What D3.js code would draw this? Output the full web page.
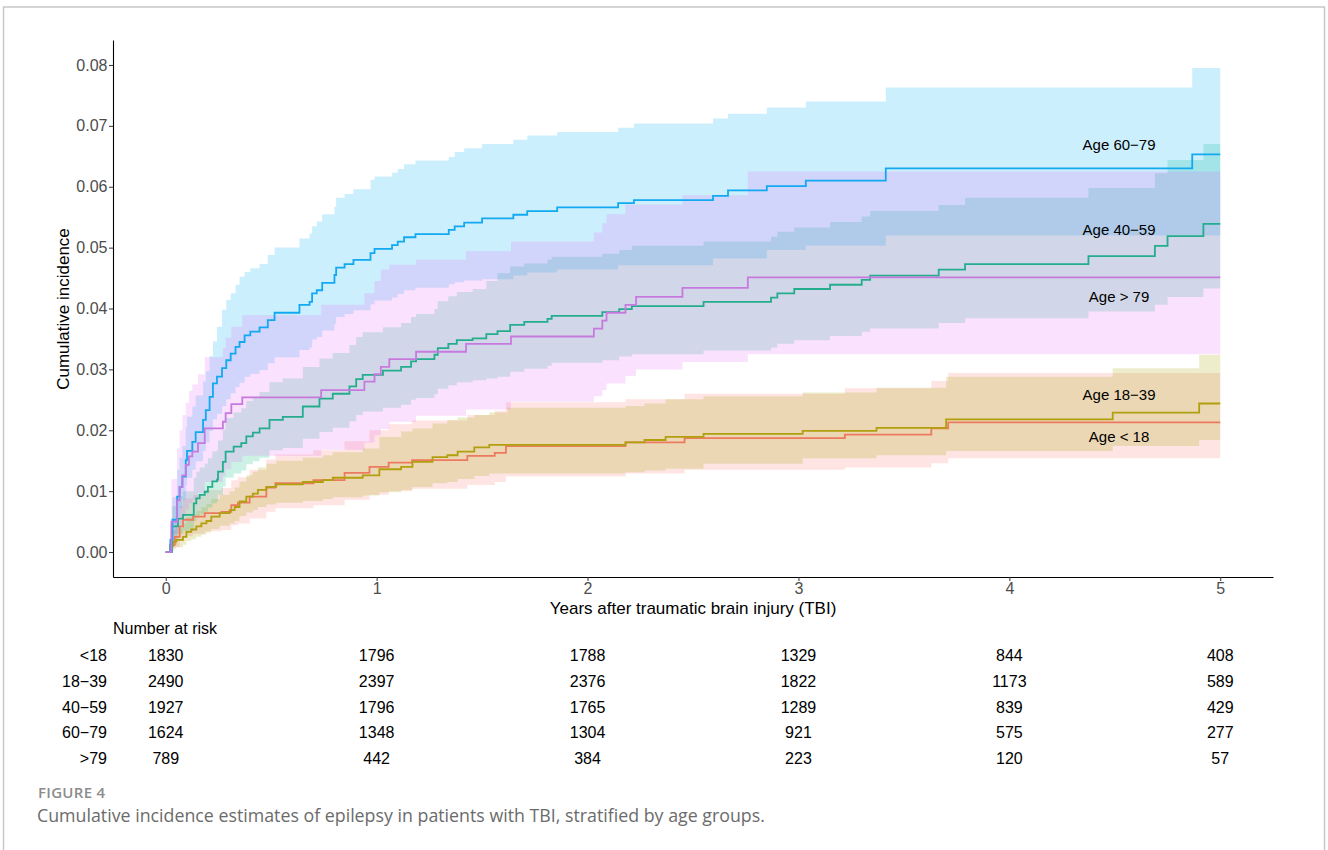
<!DOCTYPE html>
<html>
<head>
<meta charset="utf-8">
<script src="https://d3js.org/d3.v7.min.js"></script>
<style>
    body { margin: 0; background: #fff; }
    svg text { font-family: "Liberation Sans", Arial, sans-serif; }
</style>
</head>
<body>
<div id="figure4_div"></div>
<script>
// each row: [years, cumulative incidence, lower 95% CI, upper 95% CI]
var age_lt18 = [
    [0, 0, 0, 0], [0.02, 0.0012, 0.0002, 0.0035], [0.043, 0.0025, 0.0008, 0.0055],
    [0.066, 0.0042, 0.0018, 0.0075], [0.082, 0.0053, 0.0026, 0.0088], [0.13, 0.0058, 0.0030, 0.0094],
    [0.185, 0.0064, 0.0034, 0.0102], [0.264, 0.0066, 0.0036, 0.0105], [0.311, 0.0077, 0.0044, 0.0118],
    [0.342, 0.0081, 0.0047, 0.0123], [0.398, 0.0091, 0.0055, 0.0135], [0.477, 0.0106, 0.0066, 0.0152],
    [0.52, 0.0113, 0.0072, 0.0160], [0.70, 0.0118, 0.0077, 0.0167], [0.848, 0.0130, 0.0086, 0.0182],
    [0.966, 0.0140, 0.0094, 0.0200], [1.057, 0.0147, 0.0100, 0.0210], [1.168, 0.0151, 0.0104, 0.0216],
    [1.43, 0.0158, 0.0110, 0.0225], [1.56, 0.0163, 0.0115, 0.0232], [1.613, 0.0174, 0.0124, 0.0246],
    [2.18, 0.0180, 0.0129, 0.0251], [2.46, 0.0187, 0.0135, 0.0260], [3.22, 0.0193, 0.0139, 0.0269],
    [3.63, 0.0203, 0.0146, 0.0281], [3.71, 0.0213, 0.0154, 0.0294]
];

var age_18_39 = [
    [0, 0, 0, 0], [0.027, 0.0010, 0.0002, 0.0025], [0.035, 0.0017, 0.0006, 0.0036],
    [0.05, 0.0020, 0.0008, 0.0040], [0.082, 0.0025, 0.0012, 0.0047], [0.098, 0.0033, 0.0018, 0.0057],
    [0.121, 0.0037, 0.0021, 0.0062], [0.145, 0.0042, 0.0025, 0.0068], [0.169, 0.0047, 0.0029, 0.0074],
    [0.193, 0.0051, 0.0032, 0.0079], [0.216, 0.0058, 0.0038, 0.0087], [0.256, 0.0064, 0.0043, 0.0094],
    [0.303, 0.0069, 0.0047, 0.0100], [0.327, 0.0074, 0.0051, 0.0106], [0.35, 0.0083, 0.0059, 0.0116],
    [0.382, 0.0091, 0.0065, 0.0126], [0.413, 0.0096, 0.0069, 0.0132], [0.437, 0.0102, 0.0074, 0.0139],
    [0.477, 0.0107, 0.0078, 0.0145], [0.524, 0.0111, 0.0081, 0.0150], [0.65, 0.0115, 0.0084, 0.0155],
    [0.745, 0.0118, 0.0087, 0.0159], [0.792, 0.0122, 0.0090, 0.0164], [0.934, 0.0126, 0.0093, 0.0170],
    [1.013, 0.0136, 0.0098, 0.0189], [1.116, 0.0140, 0.0102, 0.0198], [1.17, 0.0148, 0.0107, 0.0203],
    [1.265, 0.0156, 0.0113, 0.0211], [1.335, 0.0159, 0.0115, 0.0217], [1.384, 0.0165, 0.0120, 0.0221],
    [1.463, 0.0172, 0.0125, 0.0225], [1.534, 0.0176, 0.0129, 0.0229], [1.62, 0.0176, 0.0129, 0.0237],
    [2.18, 0.0180, 0.0131, 0.0240], [2.27, 0.0184, 0.0134, 0.0244], [2.37, 0.0189, 0.0137, 0.0251],
    [2.55, 0.0194, 0.0145, 0.0256], [3.02, 0.0199, 0.0154, 0.0262], [3.37, 0.0204, 0.0159, 0.0270],
    [3.70, 0.0218, 0.0166, 0.0288], [4.49, 0.0229, 0.0174, 0.0302], [4.90, 0.0244, 0.0184, 0.0324]
];

var age_40_59 = [
    [0, 0, 0, 0], [0.03, 0.0042, 0.0020, 0.0075], [0.058, 0.0055, 0.0030, 0.0092],
    [0.082, 0.0061, 0.0035, 0.0100], [0.133, 0.0080, 0.0050, 0.0122], [0.145, 0.0088, 0.0057, 0.0132],
    [0.161, 0.0094, 0.0062, 0.0139], [0.185, 0.0099, 0.0066, 0.0145], [0.20, 0.0107, 0.0073, 0.0154],
    [0.221, 0.0116, 0.0080, 0.0165], [0.243, 0.0119, 0.0083, 0.0168], [0.248, 0.0132, 0.0094, 0.0183],
    [0.271, 0.0148, 0.0108, 0.0201], [0.284, 0.0165, 0.0122, 0.0220], [0.322, 0.0173, 0.0129, 0.0229],
    [0.358, 0.0179, 0.0134, 0.0236], [0.382, 0.0190, 0.0144, 0.0248], [0.413, 0.0196, 0.0149, 0.0255],
    [0.445, 0.0203, 0.0155, 0.0263], [0.492, 0.0217, 0.0167, 0.0279], [0.555, 0.0222, 0.0171, 0.0285],
    [0.65, 0.0239, 0.0186, 0.0304], [0.729, 0.0252, 0.0197, 0.0318], [0.792, 0.0260, 0.0204, 0.0327],
    [0.871, 0.0272, 0.0215, 0.0340], [0.903, 0.0284, 0.0225, 0.0353], [0.934, 0.0291, 0.0231, 0.0361],
    [1.03, 0.0298, 0.0237, 0.0369], [1.116, 0.0304, 0.0242, 0.0376], [1.163, 0.0313, 0.0250, 0.0386],
    [1.187, 0.0317, 0.0253, 0.0391], [1.274, 0.0324, 0.0259, 0.0399], [1.29, 0.0335, 0.0268, 0.0412],
    [1.34, 0.0342, 0.0274, 0.0420], [1.38, 0.0348, 0.0279, 0.0427], [1.455, 0.0351, 0.0282, 0.0432],
    [1.52, 0.0358, 0.0285, 0.0445], [1.573, 0.0363, 0.0288, 0.0458], [1.633, 0.0373, 0.0296, 0.0469],
    [1.70, 0.0378, 0.0301, 0.0474], [1.81, 0.0383, 0.0306, 0.0480], [1.83, 0.0388, 0.0311, 0.0485],
    [2.07, 0.0394, 0.0315, 0.0490], [2.15, 0.0399, 0.0321, 0.0496], [2.21, 0.0404, 0.0325, 0.0503],
    [2.55, 0.0411, 0.0331, 0.0510], [2.87, 0.0418, 0.0336, 0.0518], [2.90, 0.0425, 0.0342, 0.0526],
    [2.98, 0.0432, 0.0348, 0.0533], [3.15, 0.0439, 0.0355, 0.0542], [3.30, 0.0447, 0.0362, 0.0551],
    [3.34, 0.0454, 0.0367, 0.0560], [3.665, 0.0464, 0.0376, 0.0570], [3.79, 0.0473, 0.0384, 0.0582],
    [4.375, 0.0486, 0.0395, 0.0598], [4.69, 0.0503, 0.0406, 0.0622], [4.75, 0.0519, 0.0419, 0.0644],
    [4.92, 0.0539, 0.0433, 0.0670]
];

var age_60_79 = [
    [0, 0, 0, 0], [0.022, 0.0020, 0.0007, 0.0045], [0.032, 0.0053, 0.0030, 0.0090],
    [0.054, 0.0091, 0.0058, 0.0135], [0.066, 0.0107, 0.0072, 0.0155], [0.079, 0.0124, 0.0086, 0.0174],
    [0.095, 0.0151, 0.0109, 0.0205], [0.101, 0.0166, 0.0122, 0.0222], [0.126, 0.0181, 0.0135, 0.0239],
    [0.142, 0.0197, 0.0149, 0.0257], [0.177, 0.0217, 0.0166, 0.0280], [0.19, 0.0233, 0.0180, 0.0297],
    [0.208, 0.0255, 0.0199, 0.0322], [0.224, 0.0277, 0.0218, 0.0346], [0.243, 0.0288, 0.0227, 0.0370],
    [0.267, 0.0302, 0.0240, 0.0398], [0.287, 0.0315, 0.0251, 0.0414], [0.308, 0.0326, 0.0261, 0.0425],
    [0.331, 0.0337, 0.0271, 0.0439], [0.35, 0.0345, 0.0278, 0.0452], [0.374, 0.0356, 0.0288, 0.0460],
    [0.401, 0.0362, 0.0293, 0.0466], [0.445, 0.0369, 0.0299, 0.0473], [0.484, 0.0381, 0.0310, 0.0488],
    [0.516, 0.0393, 0.0320, 0.0500], [0.634, 0.0406, 0.0332, 0.0515], [0.682, 0.0411, 0.0336, 0.0523],
    [0.694, 0.0425, 0.0349, 0.0535], [0.716, 0.0430, 0.0353, 0.0543], [0.742, 0.0442, 0.0364, 0.0555],
    [0.80, 0.0455, 0.0375, 0.0567], [0.808, 0.0467, 0.0386, 0.0582], [0.848, 0.0473, 0.0391, 0.0588],
    [0.89, 0.0480, 0.0397, 0.0596], [0.971, 0.0491, 0.0407, 0.0611], [0.99, 0.0498, 0.0413, 0.0617],
    [1.073, 0.0504, 0.0418, 0.0623], [1.10, 0.0510, 0.0424, 0.0629], [1.13, 0.0517, 0.0430, 0.0637],
    [1.184, 0.0522, 0.0434, 0.0643], [1.342, 0.0529, 0.0440, 0.0649], [1.37, 0.0535, 0.0443, 0.0657],
    [1.415, 0.0541, 0.0446, 0.0663], [1.50, 0.0548, 0.0448, 0.0670], [1.648, 0.0554, 0.0454, 0.0677],
    [1.714, 0.0560, 0.0459, 0.0684], [1.856, 0.0566, 0.0464, 0.0690], [2.145, 0.0573, 0.0471, 0.0697],
    [2.22, 0.0578, 0.0471, 0.0704], [2.595, 0.0585, 0.0482, 0.0712], [2.666, 0.0594, 0.0482, 0.0720],
    [2.85, 0.0601, 0.0496, 0.0730], [3.035, 0.0610, 0.0503, 0.0740], [3.414, 0.0630, 0.0520, 0.0763],
    [4.867, 0.0653, 0.0520, 0.0795]
];

var age_gt79 = [
    [0, 0, 0, 0], [0.027, 0.0050, 0.0012, 0.0120], [0.054, 0.0085, 0.0030, 0.0170],
    [0.066, 0.0107, 0.0045, 0.0200], [0.079, 0.0126, 0.0058, 0.0225], [0.095, 0.0143, 0.0070, 0.0245],
    [0.11, 0.0157, 0.0080, 0.0265], [0.126, 0.0165, 0.0086, 0.0275], [0.153, 0.0179, 0.0097, 0.0292],
    [0.185, 0.0203, 0.0115, 0.0320], [0.271, 0.0214, 0.0125, 0.0335], [0.284, 0.0228, 0.0136, 0.0352],
    [0.311, 0.0243, 0.0148, 0.0370], [0.363, 0.0254, 0.0158, 0.0389], [0.737, 0.0266, 0.0168, 0.0406],
    [0.942, 0.0280, 0.0180, 0.0425], [0.99, 0.0292, 0.0192, 0.0445], [1.02, 0.0304, 0.0202, 0.0464],
    [1.06, 0.0317, 0.0214, 0.0472], [1.187, 0.0329, 0.0224, 0.0480], [1.424, 0.0342, 0.0234, 0.0494],
    [1.637, 0.0354, 0.0247, 0.0510], [2.03, 0.0367, 0.0256, 0.0525], [2.07, 0.0380, 0.0266, 0.0540],
    [2.09, 0.0393, 0.0277, 0.0555], [2.18, 0.0406, 0.0289, 0.0571], [2.23, 0.0419, 0.0300, 0.0571],
    [2.45, 0.0434, 0.0312, 0.0586], [2.76, 0.0451, 0.0325, 0.0625]
];

var series = [age_lt18, age_18_39, age_40_59, age_60_79, age_gt79];
var fill_colors = ['#F8766D', '#A3A500', '#00BF7D', '#00B0F6', '#E76BF3'];
var line_colors = ['#ec7a5e', '#b0a00e', '#24ad8c', '#12a9f1', '#c77ade'];
var end_time = 5;

var label_text = ['Age < 18', 'Age 18\u221239', 'Age 40\u221259', 'Age 60\u221279', 'Age > 79'];
var label_t = [4.52, 4.52, 4.52, 4.52, 4.52];
var label_v = [0.0189, 0.0259, 0.0529, 0.0669, 0.0419];

var x_ticks = [0, 1, 2, 3, 4, 5];
var y_ticks = [0, 0.01, 0.02, 0.03, 0.04, 0.05, 0.06, 0.07, 0.08];

var risk_times = [0, 1, 2, 3, 4, 5];
var risk_labels = ['<18', '18\u221239', '40\u221259', '60\u221279', '>79'];
var risk_counts = [
    [1830, 1796, 1788, 1329, 844, 408],
    [2490, 2397, 2376, 1822, 1173, 589],
    [1927, 1796, 1765, 1289, 839, 429],
    [1624, 1348, 1304, 921, 575, 277],
    [789, 442, 384, 223, 120, 57]
];

function figure4() {
    var width = 1328;
    var height = 850;
    var plot = { left: 113, right: 1273, top: 40, bottom: 577 };

    var svg = d3.select('#figure4_div')
        .append('svg')
        .attr('width', width)
        .attr('height', height);

    svg.append('rect')
        .attr('x', 3.5)
        .attr('y', 7)
        .attr('width', 1321)
        .attr('height', 870)
        .attr('fill', 'none')
        .attr('stroke', '#c8c8c8')
        .attr('stroke-width', 1.5);

    var x = d3.scaleLinear().domain([-0.25, 5.25]).range([plot.left, plot.right]);
    var y = d3.scaleLinear().domain([-0.0041, 0.0841]).range([plot.bottom, plot.top]);

    // carry the last step out to the end of follow-up
    var curves = series.map(function(rows) {
        var last = rows[rows.length - 1];
        return rows.concat([[end_time, last[1], last[2], last[3]]]);
    });

    var band = d3.area()
        .curve(d3.curveStepAfter)
        .x(function(d) { return x(d[0]); })
        .y0(function(d) { return y(d[2]); })
        .y1(function(d) { return y(d[3]); });

    var step = d3.line()
        .curve(d3.curveStepAfter)
        .x(function(d) { return x(d[0]); })
        .y(function(d) { return y(d[1]); });

    svg.append('g')
        .selectAll('path')
        .data(curves)
        .enter()
        .append('path')
        .attr('d', band)
        .attr('fill', function(d, i) { return fill_colors[i]; })
        .attr('fill-opacity', 0.2);

    svg.append('g')
        .selectAll('path')
        .data(curves)
        .enter()
        .append('path')
        .attr('d', step)
        .attr('fill', 'none')
        .attr('stroke', function(d, i) { return line_colors[i]; })
        .attr('stroke-width', 1.8);

    svg.append('g')
        .selectAll('text')
        .data(label_text)
        .enter()
        .append('text')
        .attr('x', function(d, i) { return x(label_t[i]); })
        .attr('y', function(d, i) { return y(label_v[i]); })
        .attr('dy', '0.36em')
        .attr('text-anchor', 'middle')
        .style('font-size', '15px')
        .attr('fill', '#000')
        .text(function(d) { return d; });

    // axes
    var y_axis = svg.append('g')
        .attr('transform', `translate(${plot.left},0)`)
        .call(d3.axisLeft(y).tickValues(y_ticks).tickFormat(d3.format('.2f'))
            .tickSize(4).tickPadding(1.5).tickSizeOuter(0));

    var x_axis = svg.append('g')
        .attr('transform', `translate(0,${plot.bottom})`)
        .call(d3.axisBottom(x).tickValues(x_ticks).tickFormat(d3.format('d'))
            .tickSize(4).tickPadding(2).tickSizeOuter(0));

    [y_axis, x_axis].forEach(function(g) {
        g.select('.domain').attr('stroke', '#000').attr('stroke-width', 1.1);
        g.selectAll('.tick line').attr('stroke', '#333').attr('stroke-width', 1);
        g.selectAll('.tick text')
            .attr('fill', '#4d4d4d')
            .style('font-size', '16px')
            .style('font-family', '"Liberation Sans", Arial, sans-serif');
    });

    svg.append('text')
        .attr('transform', 'translate(69,309) rotate(-90)')
        .attr('text-anchor', 'middle')
        .style('font-size', '17px')
        .text('Cumulative incidence');

    svg.append('text')
        .attr('x', (plot.left + plot.right) / 2)
        .attr('y', 614)
        .attr('text-anchor', 'middle')
        .style('font-size', '17px')
        .text('Years after traumatic brain injury (TBI)');

    // number at risk table
    svg.append('text')
        .attr('x', 113)
        .attr('y', 634)
        .style('font-size', '16px')
        .text('Number at risk');

    var row_y = d3.scalePoint().domain(risk_labels).range([661, 764]);

    var rows = svg.append('g')
        .selectAll('g')
        .data(risk_labels)
        .enter()
        .append('g');

    rows.append('text')
        .attr('x', 107)
        .attr('y', function(d) { return row_y(d); })
        .attr('text-anchor', 'end')
        .style('font-size', '16px')
        .text(function(d) { return d; });

    rows.selectAll('text.count')
        .data(function(d, i) { return risk_counts[i].map(function(n, j) { return { label: d, t: risk_times[j], n: n }; }); })
        .enter()
        .append('text')
        .attr('class', 'count')
        .attr('x', function(d) { return x(d.t); })
        .attr('y', function(d) { return row_y(d.label); })
        .attr('text-anchor', 'middle')
        .style('font-size', '16px')
        .text(function(d) { return d.n; });

    // caption
    svg.append('text')
        .attr('x', 38)
        .attr('y', 798)
        .style('font-family', '"Open Sans", sans-serif')
        .style('font-size', '15px')
        .style('font-weight', 600)
        .style('letter-spacing', '0.3px')
        .attr('fill', '#8c8c8c')
        .text('FIGURE 4');

    svg.append('text')
        .attr('x', 37)
        .attr('y', 822)
        .style('font-family', '"Open Sans", sans-serif')
        .style('font-size', '17.8px')
        .attr('fill', '#6b6b6b')
        .text('Cumulative incidence estimates of epilepsy in patients with TBI, stratified by age groups.');
}

figure4();
</script>
</body>
</html>
